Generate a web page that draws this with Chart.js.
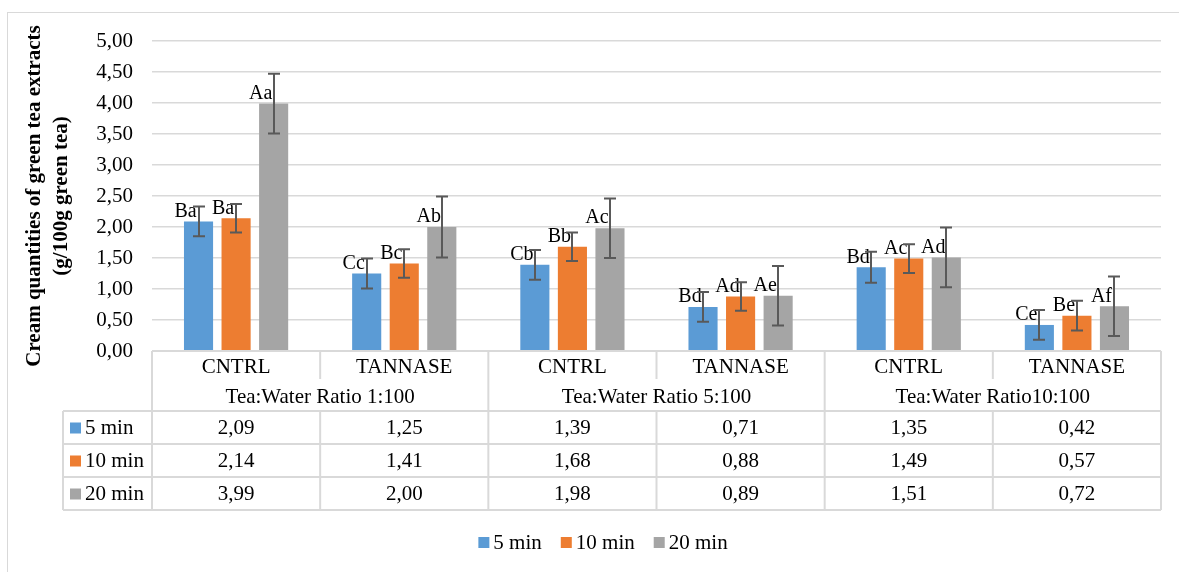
<!DOCTYPE html>
<html>
<head>
<meta charset="utf-8">
<script src="https://cdn.jsdelivr.net/npm/chart.js@4.4.1/dist/chart.umd.min.js"></script>
<style>
  html, body { margin: 0; padding: 0; background: #fff; }
  .chart-container { position: relative; width: 1179px; height: 572px; }
</style>
</head>
<body>
<div class="chart-container"><canvas id="chart"></canvas></div>
<script>
// chart data
const categories = ['CNTRL', 'TANNASE', 'CNTRL', 'TANNASE', 'CNTRL', 'TANNASE'];
const groupLabels = ['Tea:Water Ratio 1:100', 'Tea:Water Ratio 5:100', 'Tea:Water Ratio10:100'];
const seriesNames = ['5 min', '10 min', '20 min'];
const min5 = [2.09, 1.25, 1.39, 0.71, 1.35, 0.42];
const min10 = [2.14, 1.41, 1.68, 0.88, 1.49, 0.57];
const min20 = [3.99, 2.00, 1.98, 0.89, 1.51, 0.72];
const err5 = [0.24, 0.24, 0.24, 0.24, 0.25, 0.24];
const err10 = [0.23, 0.23, 0.23, 0.23, 0.23, 0.24];
const err20 = [0.48, 0.49, 0.48, 0.48, 0.48, 0.48];
const letters5 = ['Ba', 'Cc', 'Cb', 'Bd', 'Bd', 'Ce'];
const letters10 = ['Ba', 'Bc', 'Bb', 'Ad', 'Ac', 'Be'];
const letters20 = ['Aa', 'Ab', 'Ac', 'Ae', 'Ad', 'Af'];
const yMax = 5;
const yStep = 0.5;
const yTitle = ['Cream quantities of green tea extracts', '(g/100g green tea)'];

const colors = ['#5B9BD5', '#ED7D31', '#A5A5A5'];
const FONT = "'Liberation Serif', 'Times New Roman', serif";
const LINE = '#d9d9d9';

const fmt = (v) => v.toFixed(2).replace('.', ',');

Chart.defaults.font.family = FONT;
Chart.defaults.font.size = 21;
Chart.defaults.color = '#000';

// white background + outer frame
const frame = {
    id: 'frame',
    beforeDraw(chart) {
        const ctx = chart.ctx;
        ctx.save();
        ctx.fillStyle = '#fff';
        ctx.fillRect(0, 0, chart.width, chart.height);
        ctx.strokeStyle = LINE;
        ctx.lineWidth = 1;
        ctx.strokeRect(7.5, 12.5, chart.width + 20, chart.height + 20);
        ctx.restore();
    }
};

// letters above bars + error bars
const barExtras = {
    id: 'barExtras',
    afterDatasetsDraw(chart) {
        const ctx = chart.ctx;
        const y = chart.scales.y;
        ctx.save();
        chart.data.datasets.forEach((ds, di) => {
            const meta = chart.getDatasetMeta(di);
            meta.data.forEach((bar, i) => {
                ctx.font = '20px ' + FONT;
                ctx.fillStyle = '#000';
                ctx.textAlign = 'center';
                ctx.textBaseline = 'middle';
                ctx.fillText(ds.letters[i], bar.x - 13, bar.y - 10);
            });
        });
        chart.data.datasets.forEach((ds, di) => {
            const meta = chart.getDatasetMeta(di);
            meta.data.forEach((bar, i) => {
                const v = ds.data[i];
                const e = ds.errors[i];
                const top = y.getPixelForValue(v + e);
                const bot = y.getPixelForValue(v - e);
                const x = Math.round(bar.x);
                ctx.strokeStyle = '#595959';
                ctx.lineWidth = 2;
                ctx.beginPath();
                ctx.moveTo(x, top);
                ctx.lineTo(x, bot);
                ctx.moveTo(x - 6, top);
                ctx.lineTo(x + 6, top);
                ctx.moveTo(x - 6, bot);
                ctx.lineTo(x + 6, bot);
                ctx.stroke();
            });
        });
        ctx.restore();
    }
};

// data table under the plot + legend
const dataTable = {
    id: 'dataTable',
    afterDraw(chart) {
        const ctx = chart.ctx;
        const area = chart.chartArea;
        const n = categories.length;
        const colW = (area.right - area.left) / n;
        const y0 = area.bottom;
        const yGroup = y0 + 30;
        const yRows = y0 + 60;
        const rowH = 33;
        const yEnd = yRows + rowH * 3;
        const tableLeft = 63;

        ctx.save();
        ctx.strokeStyle = LINE;
        ctx.lineWidth = 2;
        const line = (x1, y1, x2, y2) => {
            ctx.beginPath();
            ctx.moveTo(x1, y1);
            ctx.lineTo(x2, y2);
            ctx.stroke();
        };
        line(area.left, y0, area.right, y0);
        for (let r = 0; r <= 3; r++) {
            line(tableLeft, yRows + r * rowH, area.right, yRows + r * rowH);
        }
        line(tableLeft, yRows, tableLeft, yEnd);
        for (let c = 0; c <= n; c++) {
            const x = area.left + c * colW;
            if (c % 2 === 0) {
                line(x, y0, x, yEnd);
            } else {
                line(x, y0, x, y0 + 28);
                line(x, yRows, x, yEnd);
            }
        }

        ctx.fillStyle = '#000';
        ctx.font = '21px ' + FONT;
        ctx.textAlign = 'center';
        ctx.textBaseline = 'middle';
        const xs = chart.scales.x;
        categories.forEach((c, i) => {
            ctx.fillText(c, xs.getPixelForValue(i), y0 + 16);
        });
        groupLabels.forEach((g, i) => {
            ctx.fillText(g, area.left + (i * 2 + 1) * colW, yGroup + 16);
        });
        chart.data.datasets.forEach((ds, di) => {
            const cy = yRows + di * rowH + rowH / 2 + 1;
            ds.data.forEach((v, i) => {
                ctx.fillText(fmt(v), xs.getPixelForValue(i), cy);
            });
            ctx.fillStyle = ds.backgroundColor;
            ctx.fillRect(70, cy - 6, 11, 11);
            ctx.fillStyle = '#000';
            ctx.textAlign = 'left';
            ctx.fillText(ds.label, 85, cy);
            ctx.textAlign = 'center';
        });

        // legend
        const widths = chart.data.datasets.map((ds) => 11 + 4 + ctx.measureText(ds.label).width);
        const total = widths.reduce((a, b) => a + b, 0) + 19 * (widths.length - 1);
        let lx = 603 - total / 2;
        const ly = 543;
        ctx.textAlign = 'left';
        chart.data.datasets.forEach((ds, di) => {
            ctx.fillStyle = ds.backgroundColor;
            ctx.fillRect(lx, ly - 6, 11, 11);
            ctx.fillStyle = '#000';
            ctx.fillText(ds.label, lx + 15, ly);
            lx += widths[di] + 19;
        });
        ctx.restore();
    }
};

const seriesData = [min5, min10, min20];
const seriesErrors = [err5, err10, err20];
const seriesLetters = [letters5, letters10, letters20];

new Chart(document.getElementById('chart').getContext('2d'), {
    type: 'bar',
    data: {
        labels: categories,
        datasets: seriesNames.map((name, i) => ({
            label: name,
            data: seriesData[i],
            errors: seriesErrors[i],
            letters: seriesLetters[i],
            backgroundColor: colors[i],
            borderWidth: 0,
            categoryPercentage: 0.67,
            barPercentage: 0.775,
        })),
    },
    options: {
        responsive: true,
        maintainAspectRatio: false,
        animation: false,
        layout: {
            padding: { top: 41, left: 8, right: 18, bottom: 61 },
        },
        plugins: {
            legend: { display: false },
            tooltip: { enabled: false },
        },
        scales: {
            x: {
                ticks: { display: false },
                grid: { display: false },
                border: { display: false },
                afterFit: (scale) => { scale.height = 160; },
            },
            y: {
                min: 0,
                max: yMax,
                ticks: {
                    stepSize: yStep,
                    padding: 19,
                    callback: (value) => fmt(value),
                },
                grid: { color: LINE, lineWidth: 1.5, drawTicks: false },
                border: { display: false },
                title: {
                    display: true,
                    text: yTitle,
                    font: { size: 21, weight: 'bold', lineHeight: 1.3 },
                    padding: { top: 13, bottom: 0 },
                },
                afterFit: (scale) => { scale.width = 144; },
            },
        },
    },
    plugins: [frame, barExtras, dataTable],
});
</script>
</body>
</html>
